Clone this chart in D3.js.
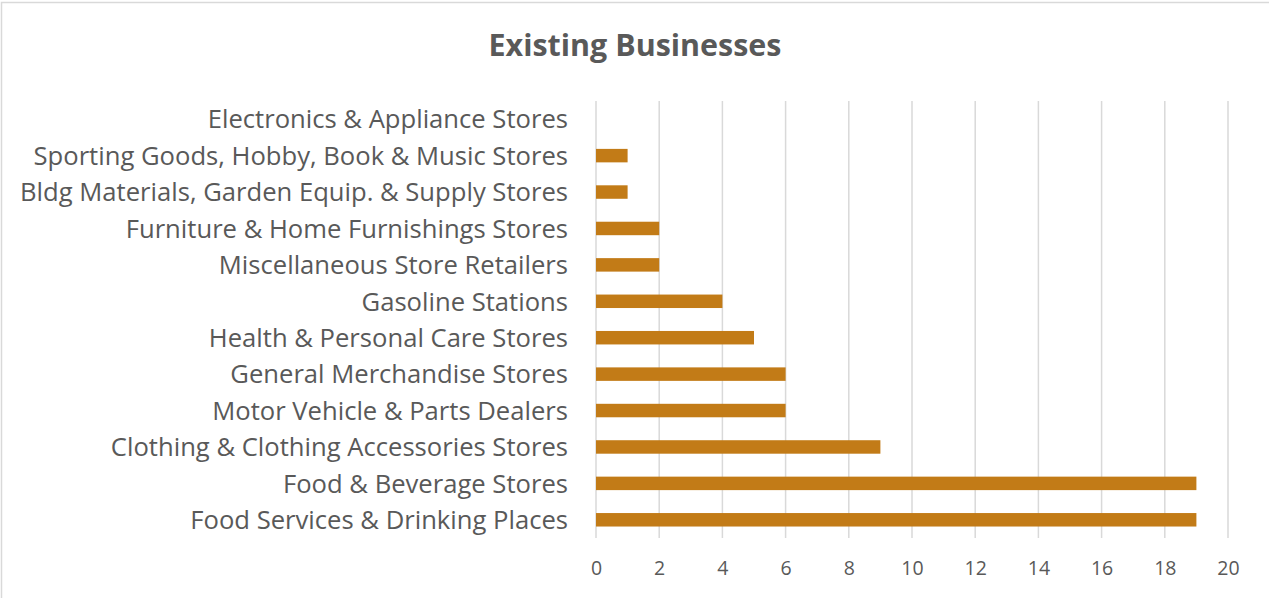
<!DOCTYPE html>
<html>
<head>
<meta charset="utf-8">
<script src="https://cdn.jsdelivr.net/npm/d3@7"></script>
<style>
  html, body { margin: 0; padding: 0; background: #fff; }
  svg { display: block; }
  text { font-family: "Open Sans", "Liberation Sans", sans-serif; fill: #595959; }
</style>
</head>
<body>
<svg id="chart" width="1269" height="598"></svg>
<script>
const categories = [
  "Electronics & Appliance Stores",
  "Sporting Goods, Hobby, Book & Music Stores",
  "Bldg Materials, Garden Equip. & Supply Stores",
  "Furniture & Home Furnishings Stores",
  "Miscellaneous Store Retailers",
  "Gasoline Stations",
  "Health & Personal Care Stores",
  "General Merchandise Stores",
  "Motor Vehicle & Parts Dealers",
  "Clothing & Clothing Accessories Stores",
  "Food & Beverage Stores",
  "Food Services & Drinking Places"
];
const values = [0, 1, 1, 2, 2, 4, 5, 6, 6, 9, 19, 19];
const xTicks = [0, 2, 4, 6, 8, 10, 12, 14, 16, 18, 20];
const title = "Existing Businesses";

const svg = d3.select("#chart");

// chart border
svg.append("rect")
  .attr("x", 1.5).attr("y", 2.5)
  .attr("width", 1300).attr("height", 700)
  .attr("fill", "none").attr("stroke", "#d9d9d9").attr("stroke-width", 1.5);

const plot = { left: 596, right: 1228, top: 101, bottom: 538 };

const x = d3.scaleLinear().domain([0, 20]).range([plot.left, plot.right]);
const y = d3.scaleBand().domain(categories).range([plot.top, plot.bottom]).paddingInner(0.63).paddingOuter(0.315);

// gridlines
svg.append("g").selectAll("line").data(xTicks).join("line")
  .attr("x1", d => x(d)).attr("x2", d => x(d))
  .attr("y1", plot.top).attr("y2", plot.bottom)
  .attr("stroke", "#d9d9d9").attr("stroke-width", 1.5);

// bars
svg.append("g").selectAll("rect").data(categories).join("rect")
  .attr("x", x(0))
  .attr("y", d => y(d))
  .attr("width", (d, i) => x(values[i]) - x(0))
  .attr("height", y.bandwidth())
  .attr("fill", "#C27B17");

// x axis (ticks only, labels)
const xAxis = d3.axisBottom(x).tickValues(xTicks).tickSize(0).tickPadding(0);
const gx = svg.append("g").attr("transform", `translate(0, ${plot.bottom})`).call(xAxis);
gx.select(".domain").remove();
gx.selectAll("text")
  .attr("dy", null)
  .attr("y", 37)
  .style("font-size", "19.5px")
  .style("font-family", "\"Open Sans\", sans-serif")
  .attr("fill", "#595959");

// y axis labels
const yAxis = d3.axisLeft(y).tickSize(0).tickPadding(28);
const gy = svg.append("g").attr("transform", `translate(${plot.left}, 0)`).call(yAxis);
gy.select(".domain").remove();
gy.selectAll("text")
  .attr("dy", "0.36em")
  .style("font-family", "\"Open Sans\", sans-serif")
  .attr("fill", "#595959");

// fit label font size so that the longest label spans 548px
let fs = 20;
gy.selectAll("text").style("font-size", fs + "px");
let maxW = 0;
gy.selectAll("text").each(function() { maxW = Math.max(maxW, this.getComputedTextLength()); });
fs = fs * 548 / maxW;
gy.selectAll("text").style("font-size", fs + "px");

// title
const t = svg.append("text")
  .attr("x", 635).attr("y", 56)
  .attr("text-anchor", "middle")
  .style("font-weight", "bold")
  .style("font-size", "28px")
  .attr("fill", "#595959")
  .text(title);
const tw = t.node().getComputedTextLength();
t.style("font-size", (28 * 293 / tw) + "px");
</script>
</body>
</html>
